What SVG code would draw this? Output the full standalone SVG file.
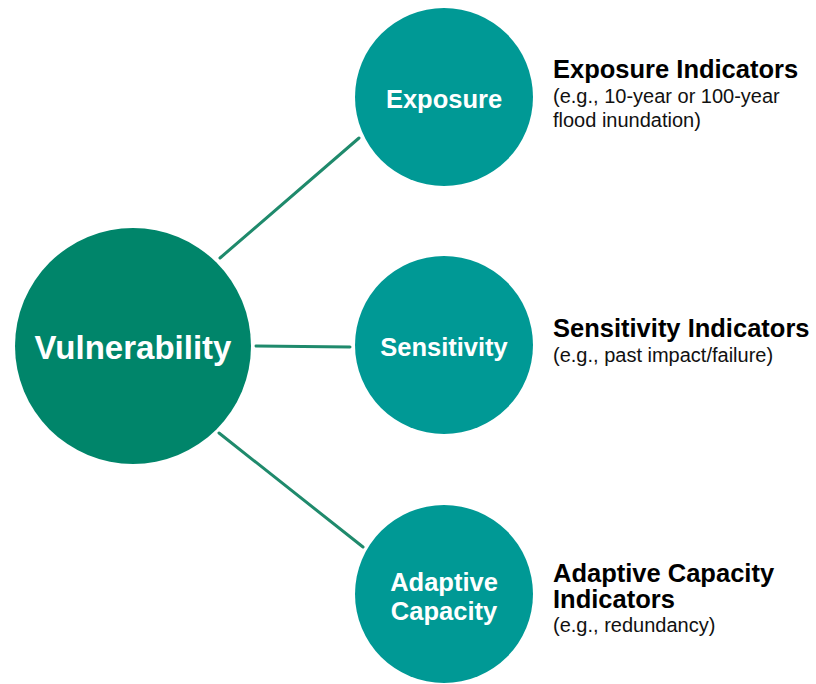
<svg xmlns="http://www.w3.org/2000/svg" width="816" height="684" viewBox="0 0 816 684">
<style>
.main{fill:#00856a}
.sub{fill:#009995}
.ct{font-family:"Liberation Sans",Arial,sans-serif;font-weight:bold;fill:#ffffff;text-anchor:middle}
.hd{font-family:"Liberation Sans",Arial,sans-serif;font-weight:bold;font-size:25.5px;fill:#000000}
.ds{font-family:"Liberation Sans",Arial,sans-serif;font-size:20px;fill:#111111}
.conn{stroke:#1f8a6c;stroke-width:3;stroke-linecap:round;fill:none}
</style>
<rect width="816" height="684" fill="#ffffff"/>
<g id="connectors">
<line class="conn" x1="220" y1="258" x2="359" y2="138"/>
<line class="conn" x1="256" y1="346" x2="350" y2="347"/>
<line class="conn" x1="219" y1="433" x2="363" y2="547"/>
</g>
<g id="vulnerability">
<circle class="main" cx="133" cy="346" r="118"/>
<text class="ct" x="133" y="359" font-size="33">Vulnerability</text>
</g>
<g id="exposure">
<circle class="sub" cx="444" cy="97" r="89"/>
<text class="ct" x="444" y="108" font-size="25.5">Exposure</text>
</g>
<g id="sensitivity">
<circle class="sub" cx="444" cy="345" r="89"/>
<text class="ct" x="444" y="356" font-size="25.5">Sensitivity</text>
</g>
<g id="adaptive">
<circle class="sub" cx="444" cy="594" r="89"/>
<text class="ct" x="444" y="591" font-size="25.5">Adaptive</text>
<text class="ct" x="444" y="620" font-size="25.5">Capacity</text>
</g>
<g id="exposure-label">
<text class="hd" x="553" y="78">Exposure Indicators</text>
<text class="ds" x="553" y="103">(e.g., 10-year or 100-year</text>
<text class="ds" x="553" y="127">flood inundation)</text>
</g>
<g id="sensitivity-label">
<text class="hd" x="553" y="337">Sensitivity Indicators</text>
<text class="ds" x="553" y="362">(e.g., past impact/failure)</text>
</g>
<g id="adaptive-label">
<text class="hd" x="553" y="582">Adaptive Capacity</text>
<text class="hd" x="553" y="608">Indicators</text>
<text class="ds" x="553" y="632">(e.g., redundancy)</text>
</g>
</svg>
